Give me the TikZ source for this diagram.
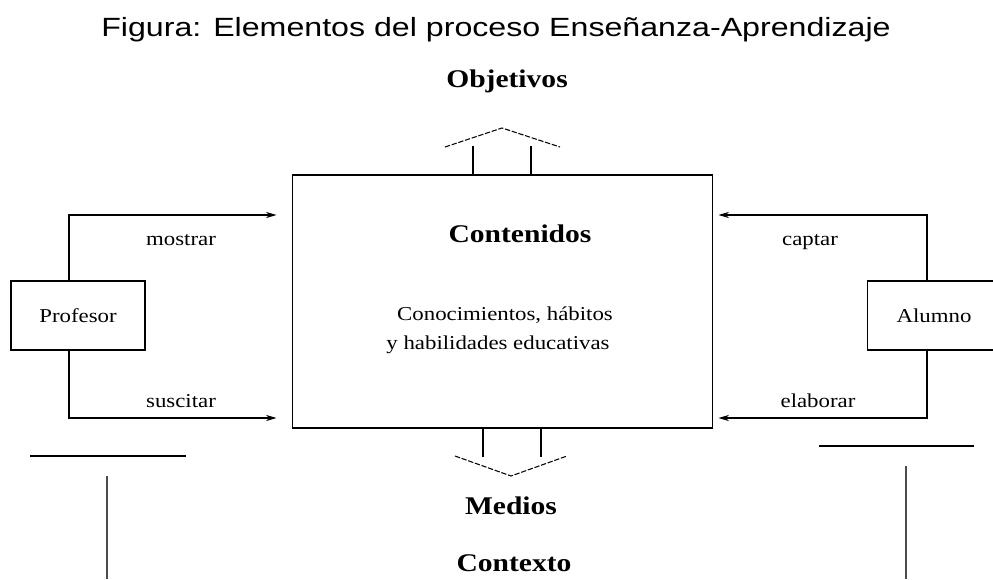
\documentclass[tikz,border=0pt]{standalone}
\usepackage{fontspec}
\setmainfont{Liberation Serif}[FakeStretch=1.16]
\newfontfamily\titlefont{Liberation Sans}[FakeStretch=1.22]
\usetikzlibrary{arrows.meta,positioning}
\begin{document}
\begin{tikzpicture}[x=0.02cm,y=0.02cm,line width=0.6pt,
  caja/.style={draw,rectangle,inner sep=0pt},
  flecha/.style={-{Stealth[length=6pt,width=3.5pt]}},
  rotulo/.style={font=\fontsize{11.2}{13}\selectfont,anchor=base},
  titulo/.style={font=\bfseries\fontsize{14.5}{17}\selectfont,anchor=base},
  hueca/.style={dash pattern=on 3pt off 1pt}]
\useasboundingbox (0,0) rectangle (993,579);

\node[font=\titlefont\fontsize{15}{18}\selectfont,anchor=base] (fig) at (496,542) {Figura: Elementos del proceso Enseñanza-Aprendizaje};

% cajas
\node[caja,minimum width=8.42cm,minimum height=5.06cm] (cont) at (502.5,277.5) {};
\node[caja,minimum width=2.68cm,minimum height=1.38cm,font=\fontsize{11.2}{13}\selectfont] (prof) at (78,263.5) {Profesor};
\node[caja,minimum width=2.68cm,minimum height=1.38cm,font=\fontsize{11.2}{13}\selectfont] (alum) at (934,263.5) {Alumno};

\node[titulo] (obj) at (507,491) {Objetivos};
\node[titulo] (conte) at (520,337) {Contenidos};
\node[rotulo] (con1) at (505,259) {Conocimientos, hábitos};
\node[rotulo] (con2) at (498,230) {y habilidades educativas};
\node[titulo] (med) at (511,65) {Medios};
\node[titulo] (ctx) at (514,8) {Contexto};

% flechas laterales
\draw[flecha,shorten >=0.3cm] ([xshift=-0.18cm]prof.north) |- (cont.west |- 0,364);
\draw[flecha,shorten >=0.3cm] ([xshift=-0.18cm]prof.south) |- (cont.west |- 0,161);
\draw[flecha,shorten >=0.1cm] ([xshift=-0.14cm]alum.north) |- (cont.east |- 0,364);
\draw[flecha,shorten >=0.1cm] ([xshift=-0.14cm]alum.south) |- (cont.east |- 0,161);
\node[rotulo] (mos) at (181,334) {mostrar};
\node[rotulo] (sus) at (181,172) {suscitar};
\node[rotulo] (cap) at (810,334) {captar};
\node[rotulo] (ela) at (818,172) {elaborar};

% flechas huecas
\draw ([xshift=-0.59cm]cont.north) -- ++(0,28);
\draw ([xshift=0.57cm]cont.north) -- ++(0,28);
\draw[hueca] (445,432) -- (502,451) -- (560,432);
\draw ([xshift=-0.39cm]cont.south) -- ++(0,-28);
\draw ([xshift=0.77cm]cont.south) -- ++(0,-28);
\draw[hueca] (455,123) -- (511,103) -- (567,123);

% contexto
\draw[line width=1pt] (30,123) -- (186,123);
\draw[line width=1.1pt,black!70] (107,103) -- (107,0);
\draw[line width=1pt] (819,133) -- (974,133);
\draw[line width=1.1pt,black!70] (906,113) -- (906,0);
\end{tikzpicture}
\end{document}
